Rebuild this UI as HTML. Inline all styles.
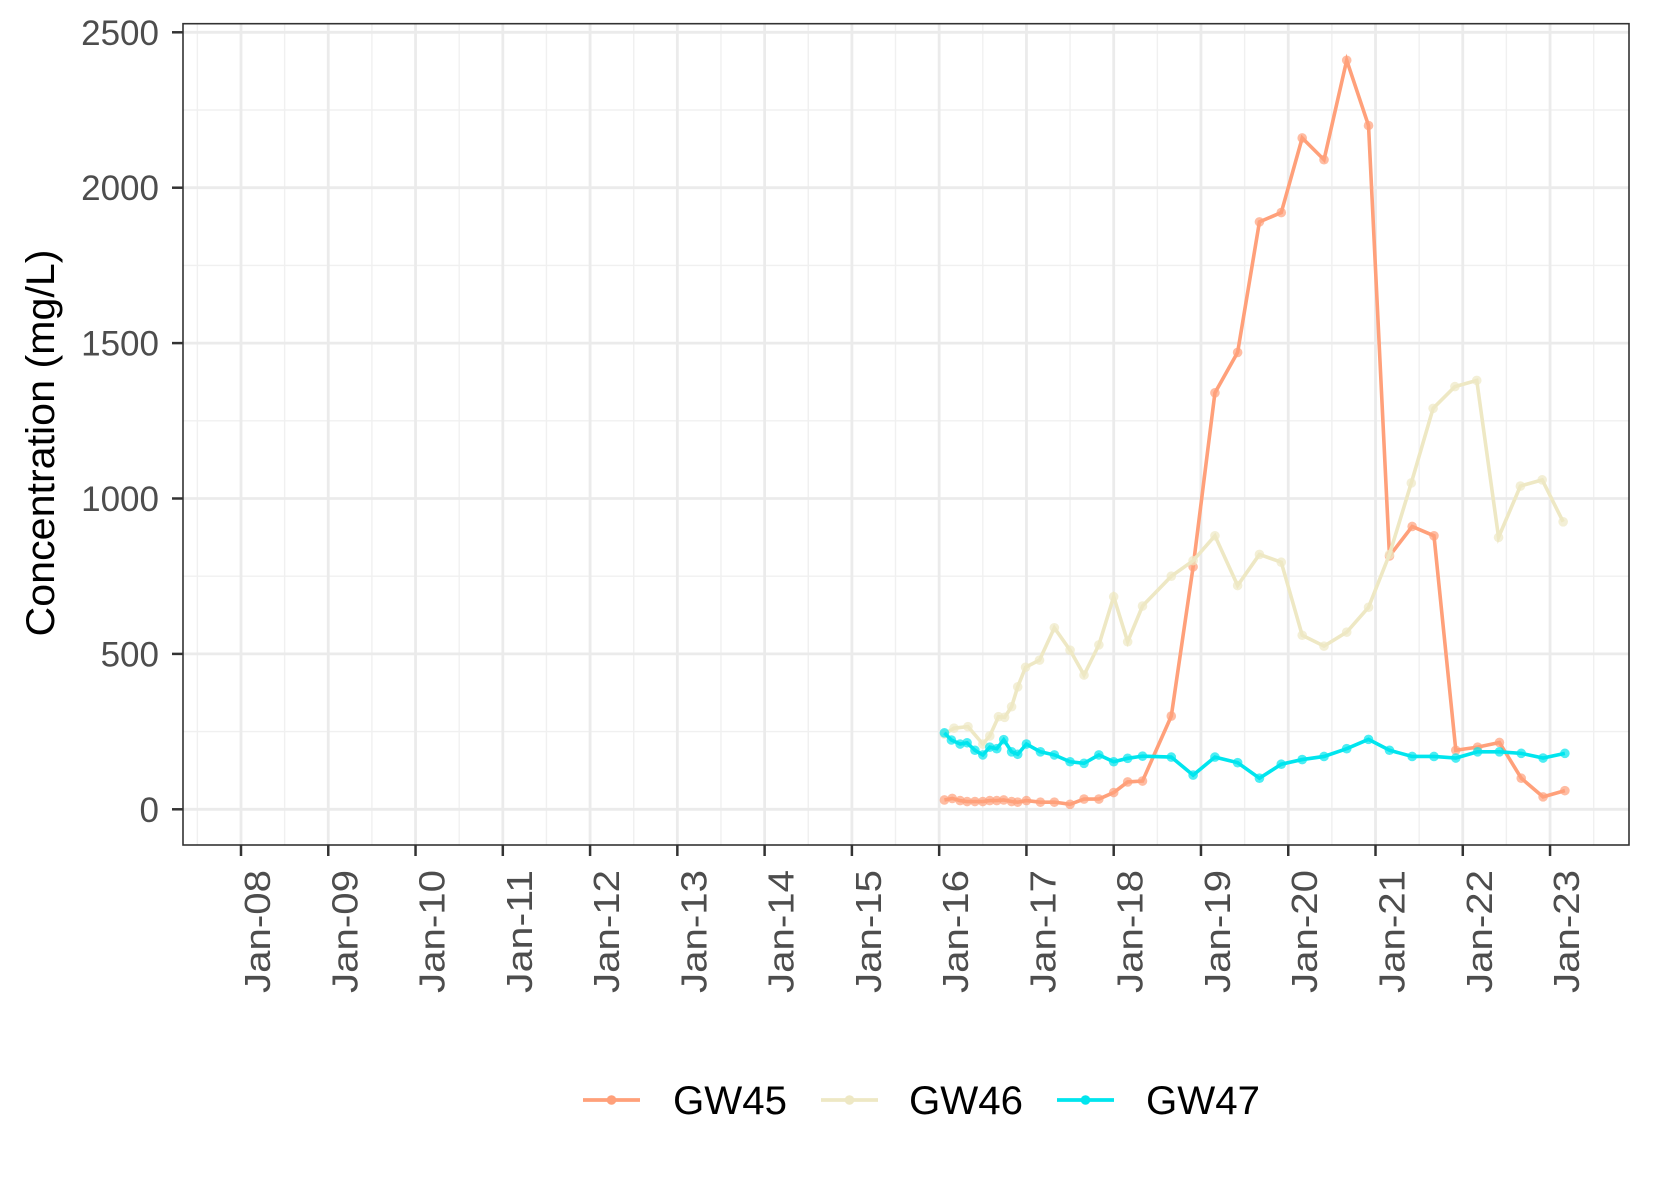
<!DOCTYPE html>
<html><head><meta charset="utf-8"><style>body{margin:0;background:#fff}svg{display:block}</style></head>
<body>
<svg id="c" width="1653" height="1181" viewBox="0 0 1653 1181" xmlns="http://www.w3.org/2000/svg" font-family="Liberation Sans, Arial, sans-serif"></svg>
<script>
const yearTicks=[8,9,10,11,12,13,14,15,16,17,18,19,20,21,22,23];
const yTicks=[0,500,1000,1500,2000,2500];
const gw45X=[16.06,16.15,16.24,16.32,16.41,16.5,16.58,16.66,16.74,16.83,16.9,17.0,17.16,17.32,17.5,17.66,17.83,18.0,18.16,18.33,18.66,18.91,19.16,19.42,19.67,19.92,20.16,20.41,20.67,20.92,21.16,21.42,21.67,21.92,22.17,22.42,22.67,22.92,23.17];
const gw45Y=[30,35,28,25,25,25,28,28,30,25,23,28,23,23,16,33,33,54,88,91,300,780,1340,1470,1890,1920,2160,2090,2410,2200,815,910,880,190,200,215,100,40,60];
const gw46X=[16.06,16.17,16.33,16.5,16.58,16.68,16.75,16.83,16.9,16.99,17.15,17.32,17.5,17.66,17.83,18.0,18.16,18.33,18.66,18.91,19.16,19.42,19.67,19.92,20.16,20.41,20.67,20.92,21.16,21.41,21.66,21.91,22.16,22.41,22.66,22.91,23.15];
const gw46Y=[242,261,266,210,236,298,296,330,394,457,480,584,512,432,529,684,539,654,750,800,880,720,820,795,560,525,570,650,820,1050,1290,1360,1380,875,1040,1060,925];
const gw47X=[16.06,16.14,16.24,16.32,16.41,16.5,16.58,16.66,16.74,16.83,16.9,17.0,17.16,17.32,17.5,17.66,17.83,18.0,18.16,18.33,18.66,18.91,19.16,19.42,19.67,19.92,20.16,20.41,20.67,20.92,21.16,21.42,21.67,21.92,22.17,22.42,22.67,22.92,23.17];
const gw47Y=[246,223,210,214,190,175,200,195,224,185,177,210,185,175,153,148,175,153,164,171,168,110,168,150,100,145,160,170,195,225,190,170,170,165,185,185,180,165,180];
const series=[{n:'GW45',c:'#FFA07A',x:gw45X,y:gw45Y},{n:'GW46',c:'#EEE8C4',x:gw46X,y:gw46Y},{n:'GW47',c:'#00E5EE',x:gw47X,y:gw47Y}];
const L=183,R=1629,T=23.7,B=845;
const sx=v=>241+(v-8)*87.27, sy=v=>809.3-v*0.3108;
const svg=document.getElementById('c');const NS='http://www.w3.org/2000/svg';
function mk(t,a,p){const e=document.createElementNS(NS,t);for(const k in a)e.setAttribute(k,a[k]);(p||svg).appendChild(e);return e;}
const grid=mk('g',{});


for(let v=250;v<2600;v+=500){mk('line',{x1:L,x2:R,y1:sy(v),y2:sy(v),stroke:'#f0f0f0','stroke-width':1.4},grid);}
for(let i=0;i<yearTicks.length+1;i++){const v=7.5+i;mk('line',{x1:sx(v),x2:sx(v),y1:T,y2:B,stroke:'#f0f0f0','stroke-width':1.4},grid);}
yTicks.forEach(v=>{mk('line',{x1:L,x2:R,y1:sy(v),y2:sy(v),stroke:'#ebebeb','stroke-width':2.8},grid);
 mk('line',{x1:L-11,x2:L,y1:sy(v),y2:sy(v),stroke:'#333','stroke-width':2.5},grid);
 const t=mk('text',{x:159,y:sy(v)+12.5,'text-anchor':'end','font-size':35,fill:'#4d4d4d'});t.textContent=v;
 
 });
yearTicks.forEach(v=>{const x=sx(v);mk('line',{x1:x,x2:x,y1:T,y2:B,stroke:'#ebebeb','stroke-width':2.8},grid);
 mk('line',{x1:x,x2:x,y1:B,y2:B+11,stroke:'#333','stroke-width':2.5},grid);
 const t=mk('text',{x:0,y:0,'text-anchor':'end','font-size':36,fill:'#4d4d4d',textLength:123,lengthAdjust:'spacingAndGlyphs',transform:`translate(${x+29},${870}) rotate(-90)`});
 t.textContent='Jan-'+String(v).padStart(2,'0');
 
 });
series.forEach(s=>{const g=mk('g',{});
 
 
 mk('polyline',{points:s.x.map((v,i)=>sx(v)+','+sy(s.y[i])).join(' '),fill:'none',stroke:s.c,'stroke-width':3.6},g);
 s.x.forEach((v,i)=>{const p=mk('circle',{cx:sx(v),cy:sy(s.y[i]),r:4.8,fill:s.c,opacity:0.7},g);
  
  });});
const fr=mk('rect',{x:L,y:T,width:R-L,height:B-T,fill:'none',stroke:'#333','stroke-width':1.6});


const yt=mk('text',{x:0,y:0,'text-anchor':'middle','font-size':40,fill:'#000',textLength:387,lengthAdjust:'spacingAndGlyphs',transform:'translate(54,443) rotate(-90)'});
yt.textContent='Concentration (mg/L)';


const lx=[583,821,1057],tx=[673,909,1146];
series.forEach((s,i)=>{const g=mk('g',{});
 
 
 mk('line',{x1:lx[i],x2:lx[i]+57,y1:1100,y2:1100,stroke:s.c,'stroke-width':3.8},g);
 mk('circle',{cx:lx[i]+28.5,cy:1100,r:4.8,fill:s.c},g);
 const t=mk('text',{x:tx[i],y:1114,'font-size':40,fill:'#000',textLength:114,lengthAdjust:'spacingAndGlyphs'},g);t.textContent=s.n;});
</script>
</body></html>
